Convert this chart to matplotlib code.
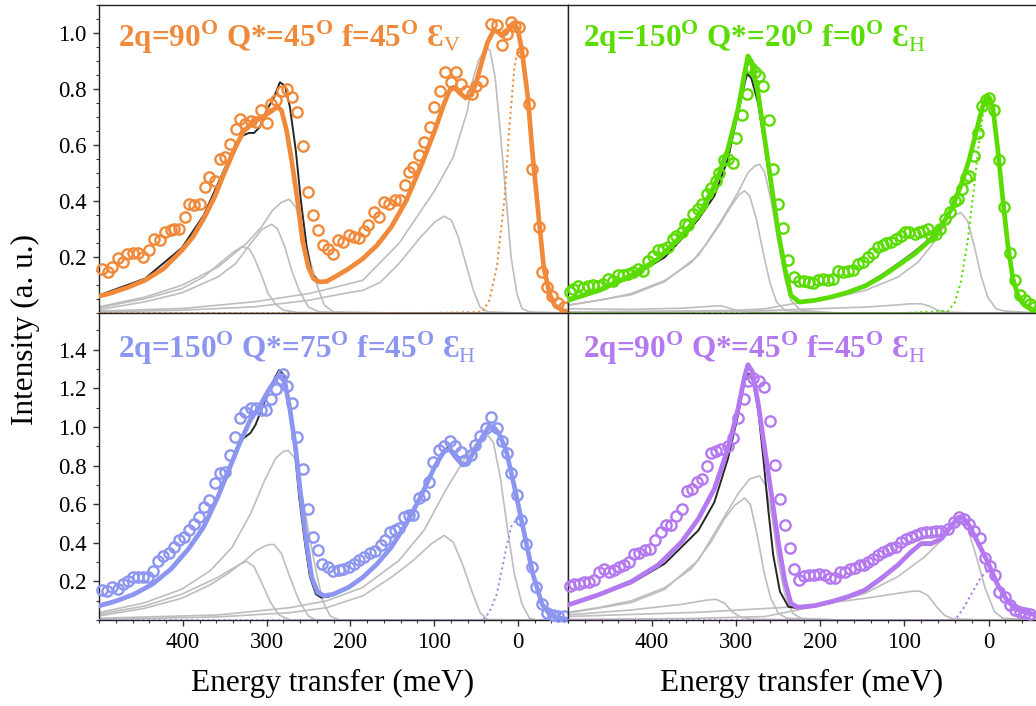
import matplotlib
matplotlib.use("Agg")
import matplotlib.pyplot as plt
from matplotlib.ticker import MultipleLocator

plt.rcParams['font.family'] = ['Liberation Serif', 'DejaVu Serif']
plt.rcParams['mathtext.fontset'] = 'custom'
plt.rcParams['mathtext.rm'] = 'Liberation Serif:bold'
plt.rcParams['mathtext.bf'] = 'Liberation Serif:bold'
plt.rcParams['mathtext.sf'] = 'Liberation Serif'

# ---------------- colours / labels ----------------
colors = ['#F08A3A', '#5ADC00', '#8C96F0', '#B478F0']
titles = [r'2q=90$^{\mathrm{O}}$ Q*=45$^{\mathrm{O}}$ f=45$^{\mathrm{O}}$ Ɛ$_{\mathsf{V}}$',
          r'2q=150$^{\mathrm{O}}$ Q*=20$^{\mathrm{O}}$ f=0$^{\mathrm{O}}$ Ɛ$_{\mathsf{H}}$',
          r'2q=150$^{\mathrm{O}}$ Q*=75$^{\mathrm{O}}$ f=45$^{\mathrm{O}}$ Ɛ$_{\mathsf{H}}$',
          r'2q=90$^{\mathrm{O}}$ Q*=45$^{\mathrm{O}}$ f=45$^{\mathrm{O}}$ Ɛ$_{\mathsf{H}}$']
xticks = [400, 300, 200, 100, 0]
yticks_top = [0.2, 0.4, 0.6, 0.8, 1.0]
yticks_bot = [0.2, 0.4, 0.6, 0.8, 1.0, 1.2, 1.4]

# ---------------- panel 1 (top left, orange) ----------------
E_data1 = [497, 489, 484, 477, 471, 466, 460, 453, 447, 440, 434, 427, 421, 414, 410, 404, 397, 393, 386, 380,
           373, 369, 362, 356, 349, 343, 336, 332, 326, 319, 313, 306, 300, 295, 289, 282, 276, 269, 264, 257,
           251, 245, 238, 233, 226, 221, 215, 209, 202, 196, 189, 184, 179, 172, 166, 160, 154, 147, 141, 135,
           130, 125, 118, 112, 105, 100, 93, 87, 80, 74, 68, 62, 55, 50, 43, 32, 25, 19, 13, 8,
           3, -1, -5, -13, -17, -25, -29, -35, -41, -48, -55]
I_data1 = [0.158, 0.146, 0.165, 0.195, 0.182, 0.212, 0.215, 0.215, 0.200, 0.224, 0.265, 0.260, 0.289, 0.295,
           0.301, 0.301, 0.343, 0.390, 0.384, 0.390, 0.450, 0.485, 0.473, 0.551, 0.557, 0.604, 0.658, 0.693,
           0.675, 0.687, 0.681, 0.725, 0.678, 0.747, 0.759, 0.794, 0.800, 0.771, 0.717, 0.595, 0.432, 0.349,
           0.297, 0.244, 0.230, 0.212, 0.262, 0.254, 0.277, 0.271, 0.268, 0.292, 0.313, 0.361, 0.343, 0.396,
           0.390, 0.402, 0.402, 0.456, 0.503, 0.521, 0.563, 0.610, 0.664, 0.735, 0.794, 0.862, 0.824, 0.862,
           0.818, 0.794, 0.782, 0.812, 0.830, 1.032, 1.030, 0.957, 0.996, 1.038, 1.026, 1.020, 0.931, 0.747,
           0.515, 0.307, 0.146, 0.093, 0.059, 0.034, 0.022]
E_fit1 = [500, 488, 466, 445, 423, 401, 388, 375, 362, 350, 337, 328, 319, 311, 302, 293, 287, 282, 276, 270,
          263, 257, 250, 244, 237, 228, 215, 202, 185, 168, 151, 133, 116, 99, 88, 81, 75, 68, 62, 55,
          49, 42, 36, 29, 24, 19, 14, 9, 4, 0, -5, -12, -18, -25, -31, -38, -44, -53, -60]
I_fit1 = [0.060, 0.069, 0.091, 0.117, 0.158, 0.224, 0.271, 0.337, 0.414, 0.503, 0.592, 0.646, 0.675, 0.690,
          0.705, 0.723, 0.737, 0.723, 0.652, 0.545, 0.402, 0.259, 0.164, 0.123, 0.111, 0.113, 0.135, 0.158,
          0.194, 0.242, 0.307, 0.402, 0.521, 0.652, 0.747, 0.797, 0.803, 0.782, 0.768, 0.779, 0.830, 0.907,
          0.967, 1.008, 1.005, 0.990, 0.999, 1.026, 1.032, 1.014, 0.937, 0.771, 0.557, 0.343, 0.164, 0.069,
          0.028, 0.010, 0.004]
E_tot1 = [500, 445, 401, 375, 350, 337, 328, 321, 315, 308, 300, 291, 284, 278, 272, 265, 259, 252, 246, 237,
          228, 215, 202, 185, 168, 151, 133, 116, 99, 88, 81, 75, 68, 62, 55, 49, 42, 36, 29, 24,
          19, 14, 9, 4, 0, -5, -12, -18, -25, -31, -38, -44, -53, -60]
I_tot1 = [0.063, 0.123, 0.233, 0.349, 0.515, 0.602, 0.634, 0.643, 0.643, 0.664, 0.723, 0.771, 0.824, 0.812,
          0.735, 0.580, 0.402, 0.236, 0.141, 0.113, 0.115, 0.137, 0.160, 0.196, 0.244, 0.309, 0.404, 0.523,
          0.655, 0.752, 0.806, 0.810, 0.786, 0.770, 0.780, 0.830, 0.907, 0.967, 1.008, 1.005, 0.990, 0.999,
          1.026, 1.032, 1.014, 0.937, 0.771, 0.557, 0.343, 0.164, 0.069, 0.028, 0.010, 0.004]
E_c1a = [500, 445, 401, 375, 354, 341, 330, 321, 315, 306, 298, 289, 280, 263, 200, -60]
I_c1a = [0.019, 0.051, 0.087, 0.129, 0.182, 0.214, 0.236, 0.230, 0.200, 0.135, 0.069, 0.031, 0.010, 0.002, 0.0, 0.0]
E_c1b = [500, 445, 401, 358, 337, 319, 306, 294, 287, 278, 270, 261, 250, 237, 200, -60]
I_c1b = [0.012, 0.040, 0.072, 0.129, 0.176, 0.248, 0.297, 0.317, 0.301, 0.236, 0.152, 0.081, 0.021, 0.004, 0.0, 0.0]
E_c1c = [500, 445, 401, 358, 324, 306, 293, 282, 273, 265, 257, 248, 239, 231, 220, 150, -60]
I_c1c = [0.022, 0.057, 0.099, 0.164, 0.248, 0.307, 0.366, 0.396, 0.406, 0.378, 0.295, 0.188, 0.093, 0.028,
         0.004, 0.0, 0.0]
E_c1d = [500, 401, 315, 250, 207, 185, 164, 142, 116, 99, 88, 79, 71, 62, 53, 45, 36, 0, -60]
I_c1d = [0.004, 0.010, 0.022, 0.045, 0.070, 0.081, 0.110, 0.176, 0.271, 0.325, 0.346, 0.331, 0.271, 0.176,
         0.081, 0.021, 0.004, 0.0, 0.0]
E_c1e = [500, 401, 315, 250, 207, 185, 142, 99, 77, 60, 55, 47, 38, 33, 27, 21, 14, 8, 1, -5, -14, -60]
I_c1e = [0.007, 0.016, 0.040, 0.069, 0.100, 0.117, 0.248, 0.438, 0.557, 0.723, 0.818, 0.901, 0.949, 0.937,
         0.842, 0.652, 0.414, 0.200, 0.069, 0.016, 0.004, 0.0]
E_el1 = [500, 100, 42, 34, 25, 16, 10, 4, 0, -5, -12, -18, -25, -31, -38, -44, -53, -60]
I_el1 = [0.0, 0.0, 0.004, 0.045, 0.164, 0.402, 0.664, 0.878, 0.937, 0.920, 0.768, 0.555, 0.342, 0.163, 0.068,
         0.027, 0.009, 0.003]

# ---------------- panel 2 (top right, green) ----------------
E_data2 = [498, 494, 488, 482, 476, 470, 464, 458, 452, 446, 440, 435, 429, 423, 417, 411, 405, 399, 393, 387,
           381, 375, 371, 365, 361, 357, 351, 345, 341, 335, 330, 324, 320, 314, 310, 304, 300, 293, 287, 283,
           278, 273, 268, 261, 256, 250, 244, 238, 231, 225, 219, 214, 209, 203, 197, 191, 185, 179, 173, 167,
           161, 155, 149, 143, 137, 132, 126, 122, 116, 110, 104, 99, 94, 88, 83, 78, 72, 68, 63, 58,
           52, 46, 40, 36, 31, 27, 23, 17, 13, 8, 3, 0, -7, -12, -18, -25, -31, -37, -43, -49, -54]
I_data2 = [0.074, 0.086, 0.096, 0.089, 0.098, 0.100, 0.098, 0.104, 0.122, 0.116, 0.134, 0.134, 0.140, 0.146,
           0.158, 0.151, 0.187, 0.205, 0.226, 0.229, 0.234, 0.266, 0.274, 0.288, 0.317, 0.314, 0.353, 0.371,
           0.388, 0.424, 0.448, 0.471, 0.501, 0.546, 0.551, 0.536, 0.625, 0.708, 0.783, 0.874, 0.859, 0.847,
           0.812, 0.688, 0.515, 0.388, 0.305, 0.190, 0.130, 0.116, 0.113, 0.110, 0.108, 0.118, 0.122, 0.118,
           0.122, 0.151, 0.148, 0.151, 0.155, 0.175, 0.183, 0.199, 0.216, 0.234, 0.243, 0.249, 0.254, 0.266,
           0.276, 0.288, 0.288, 0.282, 0.288, 0.294, 0.299, 0.276, 0.282, 0.299, 0.335, 0.359, 0.400, 0.406,
           0.442, 0.483, 0.489, 0.560, 0.643, 0.738, 0.762, 0.768, 0.726, 0.548, 0.377, 0.214, 0.119, 0.063,
           0.045, 0.033, 0.021]
E_fit2 = [500, 464, 425, 393, 365, 345, 326, 310, 298, 290, 286, 282, 274, 266, 258, 250, 242, 235, 225, 207,
          187, 167, 147, 128, 108, 88, 68, 56, 44, 33, 23, 15, 7, 1, -5, -11, -17, -23, -29, -35,
          -43, -55, -60]
I_fit2 = [0.045, 0.080, 0.134, 0.193, 0.276, 0.347, 0.454, 0.584, 0.726, 0.857, 0.918, 0.898, 0.785, 0.620,
          0.454, 0.288, 0.157, 0.063, 0.039, 0.045, 0.057, 0.074, 0.096, 0.128, 0.169, 0.211, 0.264, 0.311,
          0.371, 0.454, 0.548, 0.643, 0.738, 0.774, 0.738, 0.584, 0.406, 0.240, 0.122, 0.063, 0.027, 0.009,
          0.006]
E_tot2 = [500, 464, 425, 385, 365, 345, 326, 310, 298, 290, 287, 282, 274, 266, 258, 250, 242, 235, 225, 207,
          187, 167, 147, 128, 108, 88, 68, 56, 44, 33, 23, 15, 7, 1, -5, -11, -17, -23, -29, -35,
          -43, -55, -60]
I_tot2 = [0.045, 0.077, 0.128, 0.199, 0.264, 0.335, 0.418, 0.548, 0.714, 0.821, 0.854, 0.839, 0.750, 0.596,
          0.430, 0.276, 0.151, 0.063, 0.039, 0.045, 0.058, 0.077, 0.100, 0.134, 0.175, 0.219, 0.270, 0.313,
          0.371, 0.454, 0.548, 0.643, 0.738, 0.774, 0.738, 0.584, 0.406, 0.240, 0.122, 0.063, 0.027, 0.009,
          0.006]
E_c2a = [500, 425, 365, 330, 318, 308, 298, 282, 200, -60]
I_c2a = [0.015, 0.013, 0.017, 0.024, 0.026, 0.017, 0.007, 0.003, 0.0, 0.0]
E_c2b = [500, 464, 425, 385, 353, 334, 318, 306, 296, 290, 284, 276, 268, 260, 252, 242, 200, -60]
I_c2b = [0.029, 0.045, 0.069, 0.116, 0.181, 0.252, 0.323, 0.382, 0.424, 0.436, 0.418, 0.335, 0.217, 0.110,
         0.039, 0.009, 0.0, 0.0]
E_c2c = [500, 425, 385, 345, 318, 298, 286, 278, 272, 266, 258, 250, 242, 235, 223, 180, -60]
I_c2c = [0.027, 0.065, 0.112, 0.205, 0.329, 0.430, 0.501, 0.525, 0.531, 0.501, 0.394, 0.252, 0.122, 0.045,
         0.009, 0.0, 0.0]
E_c2d = [500, 282, 227, 147, 108, 92, 80, 70, 60, 48, 20, -60]
I_c2d = [0.0, 0.007, 0.013, 0.021, 0.029, 0.033, 0.033, 0.024, 0.009, 0.003, 0.0, 0.0]
E_c2e = [500, 306, 266, 227, 187, 147, 108, 84, 68, 52, 40, 33, 25, 17, 9, 1, -9, -19, -60]
I_c2e = [0.004, 0.009, 0.015, 0.036, 0.053, 0.080, 0.128, 0.181, 0.240, 0.311, 0.349, 0.359, 0.329, 0.240,
         0.134, 0.057, 0.015, 0.007, 0.0]
E_el2 = [500, 100, 48, 40, 33, 25, 17, 11, 6, 2, -5, -11, -17, -23, -29, -35, -43, -55, -60]
I_el2 = [0.0, 0.0, 0.007, 0.039, 0.110, 0.252, 0.454, 0.620, 0.726, 0.762, 0.732, 0.578, 0.400, 0.238, 0.122,
         0.063, 0.027, 0.009, 0.006]

# ---------------- panel 3 (bottom left, blue) ----------------
E_data3 = [497, 490, 484, 477, 471, 465, 460, 453, 447, 441, 435, 430, 423, 417, 411, 405, 399, 393, 386, 381,
           375, 369, 362, 356, 350, 344, 338, 332, 326, 319, 313, 306, 301, 295, 289, 283, 280, 276, 269, 263,
           257, 251, 245, 239, 234, 227, 221, 214, 209, 202, 196, 189, 183, 176, 170, 163, 158, 153, 147, 142,
           136, 130, 125, 118, 112, 106, 101, 94, 88, 81, 75, 68, 63, 56, 51, 45, 38, 32, 25, 19,
           13, 8, 1, -4, -10, -17, -22, -29, -35, -42, -48, -55]
I_data3 = [0.155, 0.148, 0.169, 0.160, 0.186, 0.200, 0.221, 0.221, 0.221, 0.221, 0.255, 0.308, 0.334, 0.346,
           0.377, 0.412, 0.430, 0.464, 0.499, 0.534, 0.586, 0.624, 0.708, 0.760, 0.769, 0.856, 0.948, 1.047,
           1.077, 1.099, 1.096, 1.090, 1.090, 1.146, 1.195, 1.247, 1.273, 1.212, 1.125, 0.946, 0.781, 0.577,
           0.430, 0.363, 0.290, 0.273, 0.252, 0.259, 0.264, 0.277, 0.290, 0.311, 0.325, 0.346, 0.357, 0.386,
           0.412, 0.456, 0.464, 0.478, 0.534, 0.543, 0.543, 0.630, 0.647, 0.717, 0.816, 0.882, 0.903, 0.925,
           0.899, 0.868, 0.830, 0.856, 0.908, 0.951, 0.995, 1.052, 0.993, 0.925, 0.864, 0.760, 0.647, 0.520,
           0.395, 0.277, 0.169, 0.085, 0.038, 0.026, 0.021, 0.021]
E_fit3 = [500, 479, 458, 436, 414, 393, 375, 358, 345, 332, 319, 308, 298, 289, 285, 278, 272, 265, 259, 252,
          246, 239, 231, 220, 202, 185, 168, 151, 133, 116, 99, 88, 81, 75, 66, 60, 51, 42, 34, 29,
          23, 14, 4, -7, -18, -29, -38, -48, -60]
I_fit3 = [0.073, 0.099, 0.134, 0.186, 0.264, 0.369, 0.482, 0.638, 0.777, 0.917, 1.038, 1.108, 1.186, 1.247,
          1.273, 1.230, 1.090, 0.882, 0.638, 0.395, 0.221, 0.143, 0.125, 0.134, 0.169, 0.221, 0.290, 0.377,
          0.499, 0.638, 0.795, 0.873, 0.885, 0.847, 0.803, 0.812, 0.882, 0.951, 1.003, 1.000, 0.969, 0.882,
          0.690, 0.464, 0.238, 0.082, 0.030, 0.012, 0.003]
E_tot3 = [500, 479, 458, 436, 414, 393, 375, 358, 341, 332, 327, 319, 313, 306, 298, 290, 285, 280, 274, 267,
          261, 254, 248, 241, 235, 226, 202, 185, 168, 151, 133, 116, 99, 88, 81, 75, 66, 60, 51, 42,
          34, 29, 23, 14, 4, -7, -18, -29, -38, -48, -60]
I_tot3 = [0.073, 0.099, 0.134, 0.186, 0.264, 0.369, 0.482, 0.638, 0.821, 0.917, 0.943, 0.969, 1.012, 1.090,
          1.177, 1.256, 1.294, 1.273, 1.143, 0.917, 0.638, 0.395, 0.221, 0.134, 0.117, 0.120, 0.169, 0.221,
          0.290, 0.377, 0.499, 0.640, 0.800, 0.883, 0.896, 0.852, 0.805, 0.813, 0.882, 0.951, 1.003, 1.000,
          0.969, 0.882, 0.690, 0.464, 0.238, 0.082, 0.030, 0.012, 0.003]
E_c3a = [500, 445, 401, 367, 345, 332, 324, 315, 306, 295, 285, 272, 200, -60]
I_c3a = [0.021, 0.061, 0.113, 0.183, 0.243, 0.287, 0.304, 0.277, 0.195, 0.090, 0.026, 0.0, 0.0, 0.0]
E_c3b = [500, 445, 401, 358, 328, 311, 298, 291, 282, 272, 261, 250, 241, 150, -60]
I_c3b = [0.030, 0.073, 0.134, 0.221, 0.299, 0.363, 0.390, 0.391, 0.343, 0.221, 0.099, 0.021, 0.0, 0.0, 0.0]
E_c3c = [500, 445, 401, 367, 341, 319, 302, 289, 280, 274, 266, 259, 250, 241, 233, 224, 213, 150, -60]
I_c3c = [0.038, 0.090, 0.160, 0.256, 0.377, 0.551, 0.725, 0.838, 0.873, 0.878, 0.838, 0.690, 0.464, 0.256,
         0.099, 0.021, 0.0, 0.0, 0.0]
E_c3d = [500, 358, 272, 228, 185, 151, 125, 103, 88, 77, 66, 55, 45, 36, 0, -60]
I_c3d = [0.003, 0.016, 0.038, 0.064, 0.125, 0.221, 0.308, 0.395, 0.438, 0.403, 0.290, 0.151, 0.038, 0.003,
         0.0, 0.0]
E_c3e = [500, 358, 272, 228, 185, 142, 112, 86, 64, 51, 40, 35, 29, 21, 12, 4, -5, -14, -23, -60]
I_c3e = [0.009, 0.026, 0.064, 0.099, 0.169, 0.308, 0.464, 0.673, 0.830, 0.908, 0.948, 0.955, 0.917, 0.743,
         0.464, 0.238, 0.082, 0.009, 0.0, 0.0]
E_el3 = [500, 100, 42, 34, 25, 16, 8, 1, -3, -7, -18, -29, -38, -48, -60]
I_el3 = [0.0, 0.0, 0.0, 0.038, 0.134, 0.325, 0.482, 0.525, 0.520, 0.456, 0.238, 0.082, 0.030, 0.012, 0.003]

# ---------------- panel 4 (bottom right, purple) ----------------
E_data4 = [498, 493, 487, 481, 475, 469, 463, 457, 451, 445, 439, 433, 427, 421, 415, 409, 402, 396, 390, 384,
           378, 371, 365, 359, 353, 347, 341, 335, 330, 324, 318, 310, 304, 298, 291, 286, 280, 273, 267, 260,
           254, 248, 242, 236, 231, 225, 219, 213, 207, 201, 195, 189, 182, 177, 171, 165, 159, 153, 148, 143,
           137, 132, 126, 120, 116, 110, 104, 98, 92, 86, 80, 74, 68, 62, 56, 48, 41, 35, 29, 23,
           17, 10, 4, -2, -8, -13, -19, -25, -31, -37, -43, -49]
I_data4 = [0.177, 0.184, 0.189, 0.195, 0.198, 0.207, 0.250, 0.263, 0.250, 0.258, 0.275, 0.284, 0.301, 0.344,
           0.347, 0.361, 0.366, 0.413, 0.456, 0.493, 0.490, 0.541, 0.576, 0.670, 0.679, 0.713, 0.730, 0.799,
           0.864, 0.876, 0.885, 0.902, 0.945, 1.048, 1.146, 1.237, 1.254, 1.237, 1.208, 1.030, 0.803, 0.627,
           0.490, 0.373, 0.263, 0.207, 0.229, 0.232, 0.232, 0.239, 0.232, 0.219, 0.219, 0.250, 0.250, 0.263,
           0.267, 0.284, 0.284, 0.301, 0.318, 0.335, 0.353, 0.361, 0.373, 0.378, 0.404, 0.418, 0.430, 0.438,
           0.452, 0.456, 0.456, 0.459, 0.459, 0.473, 0.507, 0.533, 0.524, 0.499, 0.459, 0.425, 0.322, 0.280,
           0.232, 0.147, 0.121, 0.078, 0.052, 0.040, 0.035, 0.030]
E_fit4 = [500, 464, 425, 393, 365, 345, 326, 310, 298, 290, 286, 281, 274, 266, 258, 250, 242, 235, 227, 207,
          187, 167, 147, 128, 108, 92, 80, 68, 56, 44, 35, 29, 23, 13, 1, -11, -23, -35, -47, -55, -60]
I_fit4 = [0.078, 0.130, 0.198, 0.284, 0.404, 0.524, 0.679, 0.885, 1.091, 1.262, 1.322, 1.288, 1.125, 0.885,
          0.645, 0.404, 0.198, 0.087, 0.066, 0.074, 0.095, 0.121, 0.155, 0.215, 0.284, 0.353, 0.396, 0.396,
          0.421, 0.490, 0.533, 0.524, 0.490, 0.404, 0.301, 0.181, 0.095, 0.052, 0.035, 0.027, 0.024]
E_tot4 = [500, 425, 385, 345, 326, 310, 298, 290, 285, 280, 274, 268, 262, 256, 248, 238, 227, 207, 187, 167,
          147, 128, 108, 92, 80, 68, 56, 44, 35, 29, 23, 13, 1, -11, -23, -35, -47, -55, -60]
I_tot4 = [0.078, 0.190, 0.292, 0.464, 0.610, 0.833, 1.057, 1.237, 1.276, 1.237, 1.091, 0.850, 0.576, 0.336,
          0.147, 0.069, 0.061, 0.069, 0.090, 0.116, 0.150, 0.207, 0.279, 0.348, 0.391, 0.391, 0.417, 0.486,
          0.529, 0.520, 0.487, 0.402, 0.300, 0.181, 0.095, 0.052, 0.035, 0.027, 0.024]
E_c4a = [500, 425, 365, 337, 324, 314, 304, 294, 282, 200, -60]
I_c4a = [0.026, 0.052, 0.081, 0.102, 0.107, 0.087, 0.040, 0.013, 0.004, 0.0, 0.0]
E_c4b = [500, 464, 425, 385, 353, 330, 314, 302, 290, 283, 275, 267, 259, 250, 240, 180, -60]
I_c4b = [0.040, 0.064, 0.099, 0.167, 0.267, 0.404, 0.524, 0.593, 0.632, 0.596, 0.438, 0.250, 0.112, 0.035,
         0.009, 0.0, 0.0]
E_c4c = [500, 425, 385, 345, 318, 298, 284, 272, 265, 257, 250, 242, 233, 223, 180, -60]
I_c4c = [0.035, 0.090, 0.159, 0.310, 0.507, 0.653, 0.730, 0.747, 0.696, 0.524, 0.301, 0.130, 0.035, 0.009,
         0.0, 0.0]
E_c4d = [500, 345, 227, 147, 108, 92, 82, 72, 62, 52, 42, 0, -60]
I_c4d = [0.018, 0.040, 0.069, 0.112, 0.138, 0.148, 0.150, 0.126, 0.069, 0.023, 0.006, 0.0, 0.0]
E_c4e = [500, 350, 266, 227, 187, 147, 108, 76, 56, 42, 33, 24, 15, 4, -7, -17, -60]
I_c4e = [0.003, 0.008, 0.018, 0.052, 0.087, 0.138, 0.224, 0.327, 0.413, 0.481, 0.507, 0.464, 0.336, 0.164,
         0.044, 0.009, 0.0]
E_el4 = [500, 100, 40, 31, 21, 11, 3, -3, -11, -23, -35, -47, -55, -60]
I_el4 = [0.0, 0.0, 0.0, 0.052, 0.130, 0.207, 0.250, 0.250, 0.181, 0.095, 0.052, 0.035, 0.027, 0.024]

panels = [
    dict(E=E_data1, I=I_data1, Ef=E_fit1, If=I_fit1, Et=E_tot1, It=I_tot1, El=E_el1, Il=I_el1,
         comps=[(E_c1a, I_c1a), (E_c1b, I_c1b), (E_c1c, I_c1c), (E_c1d, I_c1d), (E_c1e, I_c1e)]),
    dict(E=E_data2, I=I_data2, Ef=E_fit2, If=I_fit2, Et=E_tot2, It=I_tot2, El=E_el2, Il=I_el2,
         comps=[(E_c2a, I_c2a), (E_c2b, I_c2b), (E_c2c, I_c2c), (E_c2d, I_c2d), (E_c2e, I_c2e)]),
    dict(E=E_data3, I=I_data3, Ef=E_fit3, If=I_fit3, Et=E_tot3, It=I_tot3, El=E_el3, Il=I_el3,
         comps=[(E_c3a, I_c3a), (E_c3b, I_c3b), (E_c3c, I_c3c), (E_c3d, I_c3d), (E_c3e, I_c3e)]),
    dict(E=E_data4, I=I_data4, Ef=E_fit4, If=I_fit4, Et=E_tot4, It=I_tot4, El=E_el4, Il=I_el4,
         comps=[(E_c4a, I_c4a), (E_c4b, I_c4b), (E_c4c, I_c4c), (E_c4d, I_c4d), (E_c4e, I_c4e)]),
]

W, H = 1036, 706
fig = plt.figure(figsize=(W / 100, H / 100), dpi=100)
rects = [[99 / W, 1 - 313 / H, 469 / W, 308 / H],
         [568 / W, 1 - 313 / H, 471 / W, 308 / H],
         [99 / W, 1 - 620 / H, 469 / W, 307 / H],
         [568 / W, 1 - 620 / H, 471 / W, 307 / H]]

for k, (p, rect) in enumerate(zip(panels, rects)):
    ax = fig.add_axes(rect)
    col = colors[k]
    for (ce, ci) in p['comps']:
        ax.plot(ce, ci, color='#BDBDBD', lw=1.2, zorder=2, solid_joinstyle='round')
    ax.plot(p['El'], p['Il'], color=col, lw=1.5, ls=(0, (1, 1.6)), zorder=3)
    ax.plot(p['Et'], p['It'], color='#262626', lw=1.4, zorder=4, solid_joinstyle='round')
    ax.plot(p['Ef'], p['If'], color=col, lw=3.4, zorder=5, solid_joinstyle='round', solid_capstyle='round')
    ax.plot(p['E'], p['I'], ls='none', marker='o', ms=7.4, mfc='none', mec=col, mew=1.7,
            zorder=6, clip_on=False)
    ax.set_xlim(500, -60)
    top = k < 2
    ax.set_ylim(0, 1.1 if top else 1.59)
    ax.xaxis.set_major_locator(MultipleLocator(100))
    ax.xaxis.set_minor_locator(MultipleLocator(20))
    ax.set_xticks(xticks)
    if top:
        ax.set_yticks(yticks_top)
        ax.yaxis.set_minor_locator(MultipleLocator(0.05))
    else:
        ax.set_yticks(yticks_bot)
        ax.yaxis.set_minor_locator(MultipleLocator(0.1))
    ax.tick_params(axis='both', which='major', direction='out', length=4, width=1, labelsize=16.5,
                   color='#333333', pad=5)
    ax.tick_params(axis='both', which='minor', direction='out', length=2.2, width=0.8, color='#333333')
    if top:
        ax.tick_params(axis='x', labelbottom=False)
    if k % 2 == 1:
        ax.tick_params(axis='y', which='both', left=False, labelleft=False)
    for s in ax.spines.values():
        s.set_linewidth(1.0)
        s.set_color('#222222')
    ax.text(0.04 if k % 2 == 0 else 0.032, 0.865 if top else 0.853, titles[k],
            transform=ax.transAxes, color=col, fontsize=22.5, fontweight='bold',
            ha='left', va='baseline', zorder=10)

fig.text(333 / W, 1 - 683 / H, 'Energy transfer (meV)', fontsize=22.5, ha='center', va='center')
fig.text(802 / W, 1 - 683 / H, 'Energy transfer (meV)', fontsize=22.5, ha='center', va='center')
fig.text(25 / W, 1 - 330 / H, 'Intensity (a. u.)', fontsize=22.5, ha='center', va='center', rotation=90)

fig.savefig('out.png', dpi=100)
